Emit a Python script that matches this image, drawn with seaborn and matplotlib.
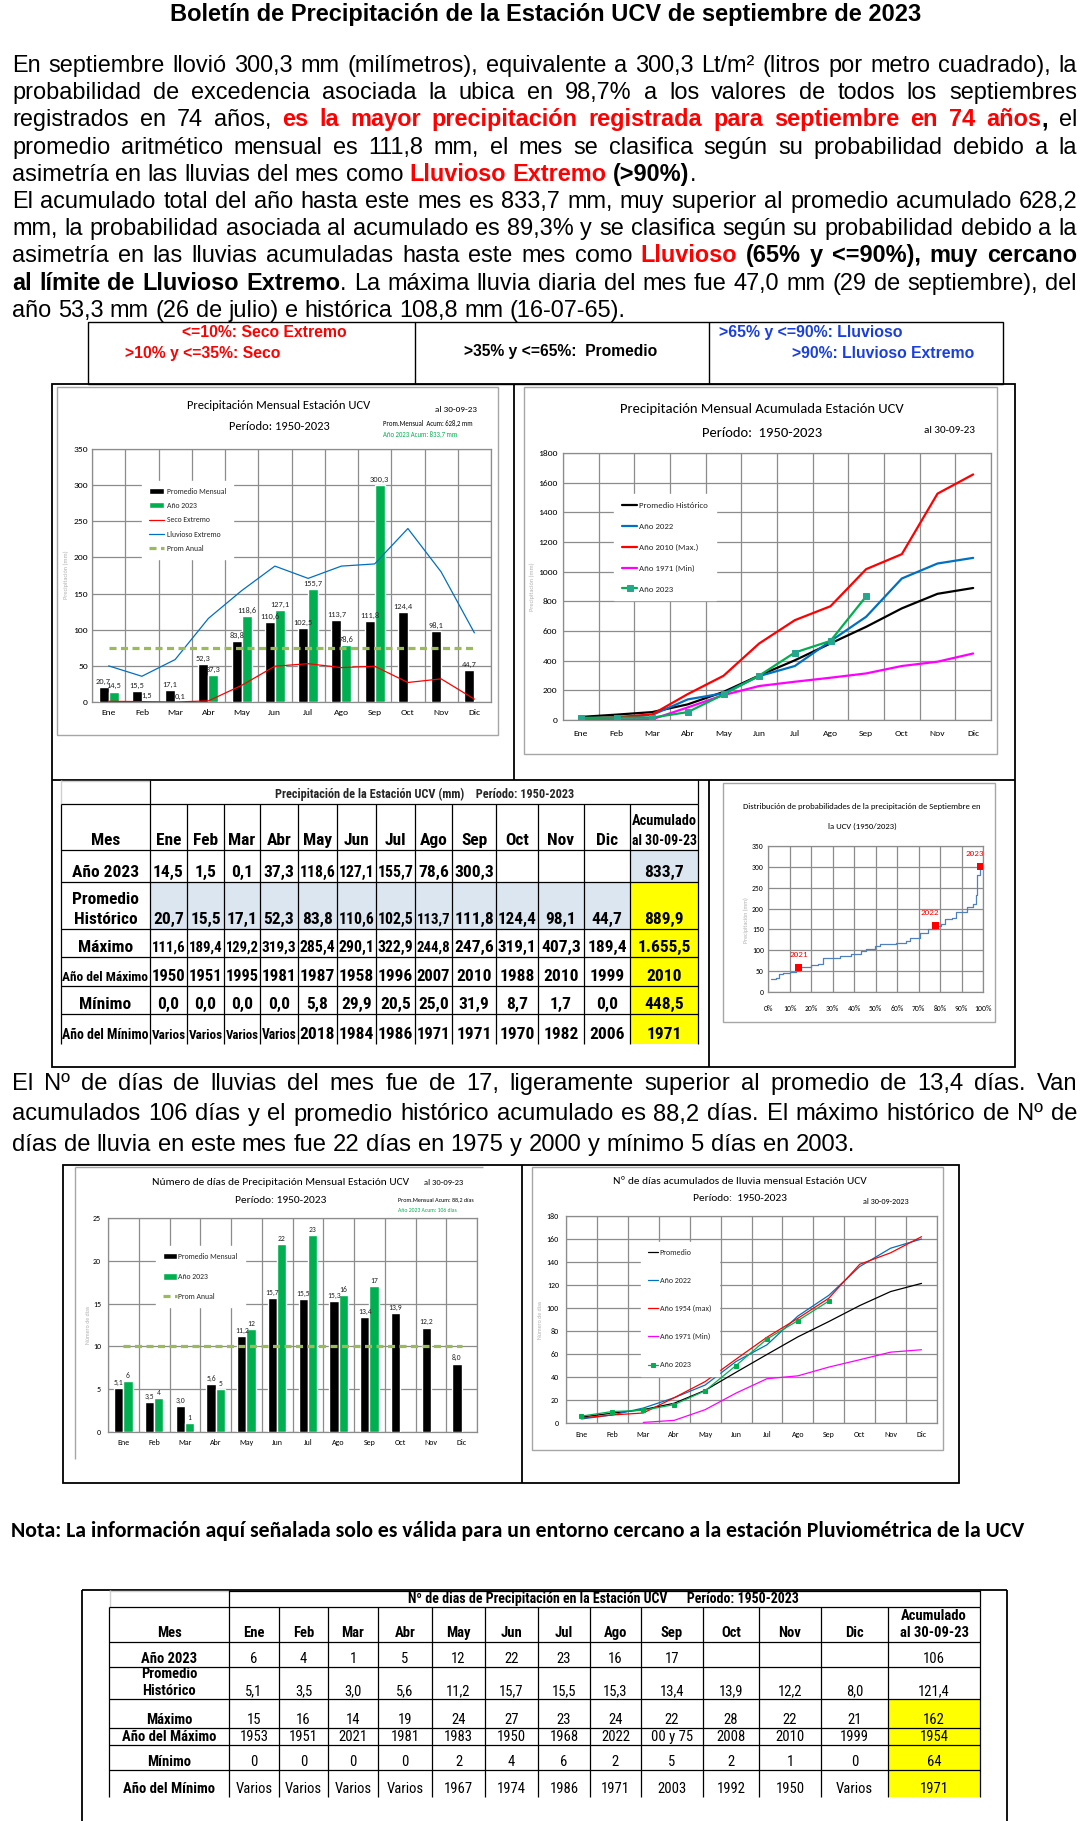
import numpy as np
import pandas as pd
import matplotlib
matplotlib.use('Agg')
import matplotlib.pyplot as plt
import seaborn as sns
from matplotlib import font_manager
from matplotlib.font_manager import FontProperties
from matplotlib.lines import Line2D
from matplotlib.patches import Rectangle, Patch
from matplotlib.ticker import PercentFormatter

# ---------------- DATA ----------------
MESES = ['Ene', 'Feb', 'Mar', 'Abr', 'May', 'Jun', 'Jul', 'Ago', 'Sep', 'Oct', 'Nov', 'Dic']

# Precipitación mensual (mm)
PREC_PROMEDIO = [20.7, 15.5, 17.1, 52.3, 83.8, 110.6, 102.5, 113.7, 111.8, 124.4, 98.1, 44.7]
PREC_2023 = [14.5, 1.5, 0.1, 37.3, 118.6, 127.1, 155.7, 78.6, 300.3, None, None, None]
PREC_SECO_EXT = [1.0, 0.5, 0.0, 1.5, 23.0, 49.5, 53.0, 47.6, 49.5, 27.0, 32.0, 4.0]
PREC_LLUV_EXT = [50.0, 35.6, 58.7, 115.6, 154.0, 188.0, 171.0, 188.0, 191.0, 240.0, 180.0, 95.7]
PREC_PROM_ANUAL = 74.6

# Precipitación acumulada (mm)
ACUM_PROMEDIO = [20.7, 36.2, 53.3, 105.6, 189.4, 300.0, 402.5, 516.2, 628.2, 752.6, 850.7, 889.9]
ACUM_2022 = [11, 18, 34, 139, 180, 296, 364, 532, 696, 954, 1055, 1093]
ACUM_2010 = [10, 18, 38, 175, 298, 516, 673, 767, 1017, 1118, 1526, 1655.5]
ACUM_1971 = [2, 3, 5, 85, 168, 229, 258, 285, 314, 364, 393, 448.5]
ACUM_2023 = [14.5, 16.0, 16.1, 53.4, 172.0, 299.1, 454.8, 533.4, 833.7, None, None, None]

# Distribución de probabilidades (septiembre)
DIST_PROB = [0.012, 0.039, 0.050, 0.070, 0.101, 0.132, 0.147, 0.178, 0.202, 0.233, 0.256, 0.295,
             0.333, 0.388, 0.434, 0.457, 0.496, 0.519, 0.597, 0.643, 0.659, 0.690, 0.705, 0.744,
             0.783, 0.806, 0.822, 0.856, 0.876, 0.899, 0.927, 0.953, 0.966, 0.974, 0.984, 0.990]
DIST_MM = [31.8, 34.2, 43.8, 46.1, 48.5, 50.9, 58.9, 60.5, 65.2, 66.8, 81.1, 82.7,
           86.7, 91.5, 97.1, 103.4, 110.6, 114.6, 116.9, 123.3, 128.9, 130.5, 140.8, 151.2,
           159.1, 163.1, 174.2, 176.6, 192.5, 192.5, 204.5, 210.0, 232.3, 280.0, 296.0, 302.0]
MARK_ANOS = ['2021', '2022', '2023']
MARK_PROB = [0.143, 0.78, 0.987]
MARK_MM = [58.0, 159.0, 300.3]

# Días de precipitación
DIAS_PROMEDIO = [5.1, 3.5, 3.0, 5.6, 11.2, 15.7, 15.5, 15.3, 13.4, 13.9, 12.2, 8.0]
DIAS_2023 = [6, 4, 1, 5, 12, 22, 23, 16, 17, None, None, None]
DIAS_PROM_ANUAL = 10.1

# Días acumulados
DACUM_PROMEDIO = [5.1, 8.6, 11.6, 17.2, 28.4, 44.1, 59.6, 74.9, 88.2, 102.1, 114.3, 121.4]
DACUM_2022 = [3.5, 7, 13, 22, 33, 53.5, 68, 93, 111, 136, 152, 160]
DACUM_1954 = [4.3, 7, 8.7, 22, 36, 55.5, 74.6, 91, 108.5, 138, 148, 162]
DACUM_1971 = [None, None, 0.5, 2.3, 11.6, 26, 38.5, 41, 48.6, 55, 61.6, 63.7]
DACUM_2023 = [6, 10, 11, 16, 28, 50, 73, 89, 106, None, None, None]

# Tabla de precipitación (mm)
TP_MAX = [111.6, 189.4, 129.2, 319.3, 285.4, 290.1, 322.9, 244.8, 247.6, 319.1, 407.3, 189.4]
TP_ANO_MAX = ['1950', '1951', '1995', '1981', '1987', '1958', '1996', '2007', '2010', '1988', '2010', '1999']
TP_MIN = [0.0, 0.0, 0.0, 0.0, 5.8, 29.9, 20.5, 25.0, 31.9, 8.7, 1.7, 0.0]
TP_ANO_MIN = ['Varios', 'Varios', 'Varios', 'Varios', '2018', '1984', '1986', '1971', '1971', '1970', '1982', '2006']
TP_ACUM = ['833,7', '889,9', '1.655,5', '2010', '448,5', '1971']

# Tabla de días
TD_MAX = [15, 16, 14, 19, 24, 27, 23, 24, 22, 28, 22, 21]
TD_ANO_MAX = ['1953', '1951', '2021', '1981', '1983', '1950', '1968', '2022', '00 y 75', '2008', '2010', '1999']
TD_MIN = [0, 0, 0, 0, 2, 4, 6, 2, 5, 2, 1, 0]
TD_ANO_MIN = ['Varios', 'Varios', 'Varios', 'Varios', '1967', '1974', '1986', '1971', '2003', '1992', '1950', 'Varios']
TD_ACUM = ['106', '121,4', '162', '1954', '64', '1971']

# ---------------- STYLE ----------------
W, H, DPI = 1085, 1821, 100
GREEN = '#00B050'
OLIVE = '#9BBB59'
BLUE = '#0070C0'
RED = '#FF0000'
MAG = '#FF00FF'
GRID = '#8C8C8C'
LBLUE = '#DCE6F1'
YELLOW = '#FFFF00'

sns.set_theme(style='white')
names = {f.name for f in font_manager.fontManager.ttflist}


def first(*c):
    for x in c:
        if x in names:
            return x
    return 'DejaVu Sans'


BODY = first('Liberation Sans', 'Arimo', 'DejaVu Sans')
NARROW = first('Liberation Sans Narrow', 'Roboto Condensed', 'Liberation Sans')
CHART = first('Carlito', 'Liberation Sans Narrow', 'Roboto Condensed', 'Liberation Sans')
NOTA = first('Carlito', 'Lato', 'Open Sans')
plt.rcParams['font.family'] = [CHART, 'DejaVu Sans']

fig = plt.figure(figsize=(W / DPI, H / DPI), dpi=DPI)
fig.patch.set_facecolor('white')
bg = fig.add_axes([0, 0, 1, 1])
bg.set_xlim(0, W)
bg.set_ylim(H, 0)
bg.axis('off')
R = fig.canvas.get_renderer()


def fp(family, size, weight='normal'):
    return FontProperties(family=[family, 'DejaVu Sans'], size=size, weight=weight)


def tw(s, prop):
    w, h, d = R.get_text_width_height_descent(s, prop, ismath=False)
    return w


def axrect(x0, y0, x1, y1):
    return [x0 / W, 1 - y1 / H, (x1 - x0) / W, (y1 - y0) / H]


def hl(y, x0, x1, c='black', lw=1.0):
    bg.plot([x0, x1], [y, y], color=c, lw=lw, solid_capstyle='butt')


def vl(x, y0, y1, c='black', lw=1.0):
    bg.plot([x, x], [y0, y1], color=c, lw=lw, solid_capstyle='butt')


def fit(s, x0, x1, yb, family, weight='normal', color='black', size0=10.0):
    size = size0 * (x1 - x0) / tw(s, fp(family, size0, weight))
    bg.text(x0, yb, s, fontproperties=fp(family, size, weight), color=color,
            ha='left', va='baseline')
    return size


def ctext(s, cx, yb, size, family=None, weight='normal', color='black'):
    bg.text(cx, yb, s, fontproperties=fp(family or CHART, size, weight), color=color,
            ha='center', va='baseline')


def line_words(segments):
    words = [[]]
    for txt, col, wt in segments:
        parts = txt.split(' ')
        for i, p in enumerate(parts):
            if i > 0 and words[-1]:
                words.append([])
            if p:
                words[-1].append((p, col, wt))
    if not words[-1]:
        words.pop()
    return words


def draw_rich(segments, x0, x1, yb, size, justify, family=BODY):
    words = line_words(segments)
    widths = [sum(tw(p, fp(family, size, wt)) for p, c, wt in w) for w in words]
    space = tw('a a', fp(family, size)) - tw('aa', fp(family, size))
    gap = (x1 - x0 - sum(widths)) / (len(words) - 1) if (justify and len(words) > 1) else space
    x = x0
    for w, wd in zip(words, widths):
        for p, c, wt in w:
            prop = fp(family, size, wt)
            bg.text(x, yb, p, color=c, fontproperties=prop, ha='left', va='baseline')
            x += tw(p, prop)
        x += gap


def fmt(v):
    return f'{v:.1f}'.replace('.', ',')


# ---------------- TEXT ----------------
fit('Boletín de Precipitación de la Estación UCV de septiembre de 2023', 170, 921, 21, BODY, 'bold')

N = 'normal'
B = 'bold'
K = 'black'
P1 = [
    [("En septiembre llovió 300,3 mm (milímetros), equivalente a 300,3 Lt/m² (litros por metro cuadrado), la", K, N)],
    [("probabilidad de excedencia asociada la ubica en 98,7% a los valores de todos los septiembres", K, N)],
    [("registrados en 74 años, ", K, N), ("es la mayor precipitación registrada para septiembre en 74 años", RED, B),
     (",", K, B), (" el", K, N)],
    [("promedio aritmético mensual es 111,8 mm, el mes se clasifica según su probabilidad debido a la", K, N)],
    [("asimetría en las lluvias del mes como ", K, N), ("Lluvioso Extremo", RED, B), (" (>90%)", K, B), (".", K, N)],
    [("El acumulado total del año hasta este mes es 833,7 mm, muy superior al promedio acumulado 628,2", K, N)],
    [("mm, la probabilidad asociada al acumulado es 89,3% y se clasifica según su probabilidad debido a la", K, N)],
    [("asimetría en las lluvias acumuladas hasta este mes como ", K, N), ("Lluvioso", RED, B),
     (" (65% y <=90%), muy cercano", K, B)],
    [("al límite de Lluvioso Extremo", K, B), (". La máxima lluvia diaria del mes fue 47,0 mm (29 de septiembre), del", K, N)],
    [("año 53,3 mm (26 de julio) e histórica 108,8 mm (16-07-65).", K, N)],
]
J1 = [True, True, True, True, False, True, True, True, True, False]
s_p1 = 10 * 617 / tw(P1[-1][0][0], fp(BODY, 10))
for i, (segs, j) in enumerate(zip(P1, J1)):
    draw_rich(segs, 12, 1077, 72 + 27.2 * i, s_p1, j)

P2 = [
    [("El Nº de días de lluvias del mes fue de 17, ligeramente superior al promedio de 13,4 días. Van", K, N)],
    [("acumulados 106 días y el promedio histórico acumulado es 88,2 días. El máximo histórico de Nº de", K, N)],
    [("días de lluvia en este mes fue 22 días en 1975 y 2000 y mínimo 5 días en 2003.", K, N)],
]
s_p2 = 10 * 844 / tw(P2[-1][0][0], fp(BODY, 10))
for i, segs in enumerate(P2):
    draw_rich(segs, 12, 1077, 1090 + 30.5 * i, s_p2, i < 2)

fit('Nota: La información aquí señalada solo es válida para un entorno cercano a la estación Pluviométrica de la UCV',
    11, 1021, 1537, NOTA, 'bold')

# criteria box
bg.add_patch(Rectangle((88, 322), 1003 - 88, 384 - 322, fill=False, ec='black', lw=1.0))
vl(415, 322, 384)
vl(709, 322, 384)
fit('<=10%: Seco Extremo', 182, 347, 337, BODY, 'bold', RED)
fit('>10% y <=35%: Seco', 125, 281, 358, BODY, 'bold', RED)
fit('>35% y <=65%:  Promedio', 464, 658, 356, BODY, 'bold', K)
fit('>65% y <=90%: Lluvioso', 719, 904, 337, BODY, 'bold', '#1A3FE0')
fit('>90%: Lluvioso Extremo', 792, 974, 358, BODY, 'bold', '#1A3FE0')

# big frame
bg.add_patch(Rectangle((52, 384), 1015 - 52, 1067 - 384, fill=False, ec='black', lw=1.3))
vl(514, 384, 780, lw=1.3)
hl(780, 52, 1015, lw=1.3)
vl(709, 780, 1067, lw=1.3)

# chart boxes
BOXC = '#A6A6A6'
bg.add_patch(Rectangle((57, 387), 498 - 57, 735 - 387, fill=False, ec=BOXC, lw=1.0))
bg.add_patch(Rectangle((524, 387), 997 - 524, 754 - 387, fill=False, ec=BOXC, lw=1.0))
bg.add_patch(Rectangle((723, 783), 995 - 723, 1022 - 783, fill=False, ec=BOXC, lw=1.0))
bg.add_patch(Rectangle((63, 1165), 959 - 63, 1483 - 1165, fill=False, ec='black', lw=1.3))
vl(522, 1165, 1483, lw=1.3)
hl(1167, 75, 483, BOXC)
vl(75, 1167, 1459, BOXC)
bg.add_patch(Rectangle((532, 1167), 943 - 532, 1450 - 1167, fill=False, ec=BOXC, lw=1.0))

# bottom table frame
hl(1590, 82, 1007, lw=1.3)
vl(82, 1590, H, lw=1.3)
vl(1007, 1590, H, lw=1.3)


# ---------------- CHART HELPERS ----------------
def cat_axis(ax, fs, ypad=3, xpad=5):
    ax.set_xlim(-0.5, len(MESES) - 0.5)
    ax.set_xticks(np.arange(len(MESES)))
    ax.set_xticklabels(MESES)
    ax.set_xticks(np.arange(-0.5, len(MESES), 1), minor=True)
    ax.grid(False, which='major', axis='x')
    ax.grid(True, which='minor', axis='x', color=GRID, lw=0.9)
    ax.grid(True, which='major', axis='y', color=GRID, lw=0.9)
    ax.set_axisbelow(True)
    ax.tick_params(axis='both', which='both', length=0, labelsize=fs, colors='black')
    ax.tick_params(axis='x', pad=xpad)
    ax.tick_params(axis='y', pad=ypad)
    for s in ax.spines.values():
        s.set_color(GRID)
        s.set_linewidth(0.9)
    ax.set_xlabel('')
    ax.set_ylabel('')


def bar_chart(ax, prom, y23, prom_anual, ymax, ystep, lab_fs, prom_fmt, y23_fmt):
    df = pd.DataFrame({'Mes': MESES * 2,
                       'v': list(prom) + list(y23),
                       'Serie': ['Promedio Mensual'] * 12 + ['Año 2023'] * 12})
    df['v'] = pd.to_numeric(df['v'])
    sns.barplot(data=df, x='Mes', y='v', hue='Serie', hue_order=['Promedio Mensual', 'Año 2023'],
                palette={'Promedio Mensual': 'black', 'Año 2023': GREEN}, width=0.6, gap=0,
                saturation=1, errorbar=None, legend=False, ax=ax, zorder=3)
    x = np.arange(len(MESES))
    sns.lineplot(x=x, y=np.full(len(MESES), prom_anual), color=OLIVE, lw=2.3,
                 linestyle=(0, (2.2, 1.4)), ax=ax, zorder=5)
    for i, v in enumerate(prom):
        ax.annotate(prom_fmt(v), (i - 0.15, v), xytext=(0, 1.5), textcoords='offset points',
                    ha='center', va='bottom', fontsize=lab_fs, zorder=6)
    for i, v in enumerate(y23):
        if v is not None:
            ax.annotate(y23_fmt(v), (i + 0.15, v), xytext=(0, 1.5), textcoords='offset points',
                        ha='center', va='bottom', fontsize=lab_fs, zorder=6)
    ax.set_ylim(0, ymax)
    ax.set_yticks(np.arange(0, ymax + 1, ystep))


# ---------------- CHART 1: monthly precipitation ----------------
ax1 = fig.add_axes(axrect(92, 449, 491, 702))
bar_chart(ax1, PREC_PROMEDIO, PREC_2023, PREC_PROM_ANUAL, 350, 50, 6.0, fmt, fmt)
xs = np.arange(len(MESES))
sns.lineplot(x=xs, y=PREC_SECO_EXT, color=RED, lw=0.9, ax=ax1, zorder=4)
sns.lineplot(x=xs, y=PREC_LLUV_EXT, color=BLUE, lw=0.9, ax=ax1, zorder=4)
cat_axis(ax1, 6.8, ypad=3, xpad=5)
h1 = [Patch(fc='black'), Patch(fc=GREEN), Line2D([], [], color=RED, lw=0.9),
      Line2D([], [], color=BLUE, lw=0.9), Line2D([], [], color=OLIVE, lw=2.3, ls=(0, (2.2, 1.4)))]
ax1.legend(h1, ['Promedio Mensual', 'Año 2023', 'Seco Extremo', 'Lluvioso Extremo', 'Prom Anual'],
           loc='upper left', bbox_to_anchor=(0.115, 0.89), frameon=True, fancybox=False,
           edgecolor='white', framealpha=1, fontsize=5.6, handlelength=2.0, handleheight=0.8,
           labelspacing=0.95, borderpad=0.9, handletextpad=0.3)
ctext('Precipitación Mensual Estación UCV', 279, 409, 9.0)
ctext('Período: 1950-2023', 279, 430, 9.0)
fit('al 30-09-23', 435, 477, 412, CHART)
fit('Prom.Mensual  Acum: 628,2 mm', 383, 473, 426, CHART)
fit('Año 2023 Acum: 833,7 mm', 383, 457, 437, CHART, color=GREEN)
bg.text(66, 575, 'Precipitación (mm)', rotation=90, ha='center', va='center', color='#B0B0B0',
        fontproperties=fp(CHART, 4.5))

# ---------------- CHART 2: accumulated precipitation ----------------
ax2 = fig.add_axes(axrect(563, 453, 991, 720))
sns.lineplot(x=xs, y=ACUM_PROMEDIO, color='black', lw=1.6, ax=ax2, label='Promedio Histórico')
sns.lineplot(x=xs, y=ACUM_2022, color=BLUE, lw=1.6, ax=ax2, label='Año 2022')
sns.lineplot(x=xs, y=ACUM_2010, color=RED, lw=1.6, ax=ax2, label='Año 2010 (Max.)')
sns.lineplot(x=xs, y=ACUM_1971, color=MAG, lw=1.6, ax=ax2, label='Año 1971 (Min)')
sns.lineplot(x=xs, y=pd.to_numeric(pd.Series(ACUM_2023)), color=GREEN, lw=1.6, ax=ax2,
             marker='s', markersize=4, markerfacecolor='#26A68C', markeredgecolor='#26A68C',
             label='Año 2023')
ax2.set_ylim(0, 1800)
ax2.set_yticks(np.arange(0, 1801, 200))
cat_axis(ax2, 6.8, ypad=4, xpad=7)
ax2.legend(loc='upper left', bbox_to_anchor=(0.11, 0.861), frameon=True, fancybox=False,
           edgecolor='white', framealpha=1, fontsize=6.3, handlelength=1.7,
           labelspacing=1.55, borderpad=0.9, handletextpad=0.2)
ctext('Precipitación Mensual Acumulada Estación UCV', 762, 413, 10.5)
ctext('Período:  1950-2023', 762, 437, 10.5)
fit('al 30-09-23', 924, 975, 433, CHART)
bg.text(532, 587, 'Precipitación (mm)', rotation=90, ha='center', va='center', color='#B0B0B0',
        fontproperties=fp(CHART, 4.5))

# ---------------- TABLE 1: precipitation ----------------
X1 = [61, 150, 187, 224, 260, 298, 337, 376, 415, 452, 496, 538, 584, 630, 698]
Y1 = [780, 804, 850, 882, 929, 957, 986, 1014, 1044]
bg.add_patch(Rectangle((X1[-2], Y1[2]), X1[-1] - X1[-2], Y1[3] - Y1[2], fc=LBLUE, ec='none'))
bg.add_patch(Rectangle((X1[1], Y1[3]), X1[-2] - X1[1], Y1[4] - Y1[3], fc=LBLUE, ec='none'))
bg.add_patch(Rectangle((X1[-2], Y1[3]), X1[-1] - X1[-2], Y1[-1] - Y1[3], fc=YELLOW, ec='none'))
hl(Y1[0] + 1, X1[0], X1[1], '#D0D0D0')
vl(X1[0], Y1[0], Y1[1], '#D0D0D0')
for y in Y1[1:-1]:
    hl(y, X1[0], X1[-1], lw=0.9)
for x in X1:
    vl(x, Y1[1], Y1[-1], lw=0.9)
vl(X1[1], Y1[0], Y1[1], lw=0.9)
vl(X1[-1], Y1[0], Y1[1], lw=0.9)


def cell(x0, x1, yb, s, family, size, weight, color='black'):
    prop = fp(family, size, weight)
    w = tw(s, prop)
    avail = x1 - x0 - 3
    if w > avail:
        prop = fp(family, size * avail / w, weight)
    bg.text((x0 + x1) / 2, yb, s, fontproperties=prop, ha='center', va='baseline', color=color)


tt = 'Precipitación de la Estación UCV (mm)    Período: 1950-2023'
s_t1 = 10 * 299 / tw(tt, fp(NARROW, 10, 'bold'))
bg.text(425, Y1[1] - 6, tt, fontproperties=fp(NARROW, s_t1, 'bold'), ha='center', va='baseline')
FS1 = 12.5
cell(X1[0], X1[1], Y1[2] - 5, 'Mes', NARROW, FS1, 'bold')
for j, m in enumerate(MESES):
    cell(X1[j + 1], X1[j + 2], Y1[2] - 5, m, NARROW, FS1, 'bold')
cell(X1[-2], X1[-1], Y1[2] - 5, 'al 30-09-23', NARROW, FS1, 'bold')
cell(X1[-2], X1[-1], Y1[2] - 25, 'Acumulado', NARROW, FS1, 'bold')

rows1 = [
    ['Año 2023'] + [fmt(v) if v is not None else '' for v in PREC_2023] + [TP_ACUM[0]],
    ['Histórico'] + [fmt(v) for v in PREC_PROMEDIO] + [TP_ACUM[1]],
    ['Máximo'] + [fmt(v) for v in TP_MAX] + [TP_ACUM[2]],
    ['Año del Máximo'] + TP_ANO_MAX + [TP_ACUM[3]],
    ['Mínimo'] + [fmt(v) for v in TP_MIN] + [TP_ACUM[4]],
    ['Año del Mínimo'] + TP_ANO_MIN + [TP_ACUM[5]],
]
for r, row in enumerate(rows1):
    yb = Y1[r + 3] - 5
    for j, s in enumerate(row):
        cell(X1[j], X1[j + 1], yb, s, NARROW, FS1, 'bold')
cell(X1[0], X1[1], Y1[4] - 25, 'Promedio', NARROW, FS1, 'bold')

# ---------------- CHART 3: distribution ----------------
ax3 = fig.add_axes(axrect(768, 846, 983, 992))
sns.lineplot(x=DIST_PROB, y=DIST_MM, color='#4F81BD', lw=0.9, ax=ax3, drawstyle='steps-post')
sns.scatterplot(x=MARK_PROB, y=MARK_MM, marker='s', color=RED, s=24, edgecolor='none', ax=ax3, zorder=5)
for a, px, py in zip(MARK_ANOS, MARK_PROB, MARK_MM):
    ax3.annotate(a, (px, py), xytext=(-4 if a != '2021' else 0, 7), textcoords='offset points',
                 ha='center', va='bottom', color=RED, fontsize=6.5)
ax3.set_xlim(0, 1)
ax3.set_ylim(0, 350)
ax3.set_xticks(np.arange(0, 1.01, 0.1))
ax3.set_yticks(np.arange(0, 351, 50))
ax3.xaxis.set_major_formatter(PercentFormatter(1.0, decimals=0))
ax3.grid(True, color=GRID, lw=0.9)
ax3.set_axisbelow(True)
ax3.tick_params(length=0, labelsize=5.5, colors='black')
ax3.tick_params(axis='x', pad=9)
ax3.tick_params(axis='y', pad=3)
for s in ax3.spines.values():
    s.set_color(GRID)
    s.set_linewidth(0.9)
ctext('Distribución de probabilidades de la precipitación de Septiembre en', 862, 809, 6.2)
ctext('la UCV (1950/2023)', 862, 829, 6.2)
bg.text(746, 920, 'Precipitación (mm)', rotation=90, ha='center', va='center', color='#B0B0B0',
        fontproperties=fp(CHART, 4.2))

# ---------------- CHART 4: rain days ----------------
ax4 = fig.add_axes(axrect(108, 1218, 477, 1432))
bar_chart(ax4, DIAS_PROMEDIO, DIAS_2023, DIAS_PROM_ANUAL, 25, 5, 5.5, fmt, lambda v: f'{v:d}')
cat_axis(ax4, 5.8, ypad=5, xpad=5)
h4 = [Patch(fc='black'), Patch(fc=GREEN), Line2D([], [], color=OLIVE, lw=2.3, ls=(0, (2.2, 1.4)))]
ax4.legend(h4, ['Promedio Mensual', 'Año 2023', 'Prom Anual'],
           loc='upper left', bbox_to_anchor=(0.119, 0.888), frameon=True, fancybox=False,
           edgecolor='white', framealpha=1, fontsize=5.6, handlelength=1.8, handleheight=0.9,
           labelspacing=1.7, borderpad=0.9, handletextpad=0.2)
ctext('Número de días de Precipitación Mensual Estación UCV', 281, 1185, 8.2)
ctext('Período: 1950-2023', 281, 1203, 8.2)
fit('al 30-09-23', 424, 463, 1185, CHART)
fit('Prom.Mensual Acum: 88,2 días', 398, 474, 1201, CHART)
fit('Año 2023 Acum: 106 días', 398, 457, 1212, CHART, color=GREEN)
bg.text(88, 1325, 'Número de días', rotation=90, ha='center', va='center', color='#B0B0B0',
        fontproperties=fp(CHART, 4.2))

# ---------------- CHART 5: accumulated rain days ----------------
ax5 = fig.add_axes(axrect(566, 1216, 937, 1423))
sns.lineplot(x=xs, y=DACUM_PROMEDIO, color='black', lw=0.9, ax=ax5, label='Promedio')
sns.lineplot(x=xs, y=DACUM_2022, color=BLUE, lw=0.9, ax=ax5, label='Año 2022')
sns.lineplot(x=xs, y=DACUM_1954, color=RED, lw=0.9, ax=ax5, label='Año 1954 (max)')
sns.lineplot(x=xs, y=pd.to_numeric(pd.Series(DACUM_1971)), color=MAG, lw=0.9, ax=ax5, label='Año 1971 (Min)')
sns.lineplot(x=xs, y=pd.to_numeric(pd.Series(DACUM_2023)), color=GREEN, lw=0.9, ax=ax5,
             marker='s', markersize=3.5, markerfacecolor=GREEN, markeredgecolor=GREEN, label='Año 2023')
ax5.set_ylim(0, 180)
ax5.set_yticks(np.arange(0, 181, 20))
cat_axis(ax5, 5.8, ypad=5, xpad=6)
ax5.legend(loc='upper left', bbox_to_anchor=(0.19, 0.894), frameon=True, fancybox=False,
           edgecolor='white', framealpha=1, fontsize=5.8, handlelength=1.3,
           labelspacing=2.6, borderpad=0.9, handletextpad=0.2)
ctext('Nº de días acumulados de lluvia mensual Estación UCV', 740, 1184, 8.2)
ctext('Período:  1950-2023', 740, 1201, 8.2)
fit('al 30-09-2023', 863, 909, 1204, CHART)
bg.text(540, 1320, 'Número de días', rotation=90, ha='center', va='center', color='#B0B0B0',
        fontproperties=fp(CHART, 4.2))

# ---------------- TABLE 2: rain days ----------------
X2 = [109, 229, 279, 328, 378, 432, 485, 538, 590, 641, 703, 759, 821, 888, 980]
Y2 = [1590, 1607, 1642, 1667, 1699, 1728, 1745, 1770, 1797]
bg.add_patch(Rectangle((X2[-2], Y2[4]), X2[-1] - X2[-2], Y2[-1] - Y2[4], fc=YELLOW, ec='none'))
hl(Y2[0] + 1, X2[0], X2[1], '#D0D0D0')
vl(X2[0] + 1, Y2[0], Y2[1], '#D0D0D0')
for y in Y2[1:-1]:
    hl(y, X2[0], X2[-1], lw=0.9)
for x in X2:
    vl(x, Y2[1], Y2[-1], lw=0.9)
vl(X2[1], Y2[0], Y2[1], lw=0.9)
vl(X2[-1], Y2[0], Y2[1], lw=0.9)
hl(Y2[0] + 1, X2[1], X2[-1], lw=0.9)

FS2 = 10.5
ctext('Nº de dias de Precipitación en la Estación UCV      Período: 1950-2023', 603, Y2[1] - 4,
      10.0, NARROW, 'bold')
cell(X2[0], X2[1], Y2[2] - 5, 'Mes', NARROW, FS2, 'bold')
for j, m in enumerate(MESES):
    cell(X2[j + 1], X2[j + 2], Y2[2] - 5, m, NARROW, FS2, 'bold')
cell(X2[-2], X2[-1], Y2[2] - 5, 'al 30-09-23', NARROW, FS2, 'bold')
cell(X2[-2], X2[-1], Y2[2] - 22, 'Acumulado', NARROW, FS2, 'bold')

rows2 = [
    ['Año 2023'] + [f'{v:d}' if v is not None else '' for v in DIAS_2023] + [TD_ACUM[0]],
    ['Histórico'] + [fmt(v) for v in DIAS_PROMEDIO] + [TD_ACUM[1]],
    ['Máximo'] + [str(v) for v in TD_MAX] + [TD_ACUM[2]],
    ['Año del Máximo'] + TD_ANO_MAX + [TD_ACUM[3]],
    ['Mínimo'] + [str(v) for v in TD_MIN] + [TD_ACUM[4]],
    ['Año del Mínimo'] + TD_ANO_MIN + [TD_ACUM[5]],
]
for r, row in enumerate(rows2):
    yb = Y2[r + 3] - 4
    for j, s in enumerate(row):
        cell(X2[j], X2[j + 1], yb, s, NARROW, FS2, 'bold' if j == 0 else 'normal')
cell(X2[0], X2[1], Y2[4] - 21, 'Promedio', NARROW, FS2, 'bold')

fig.savefig('out.png', dpi=DPI, facecolor='white')
